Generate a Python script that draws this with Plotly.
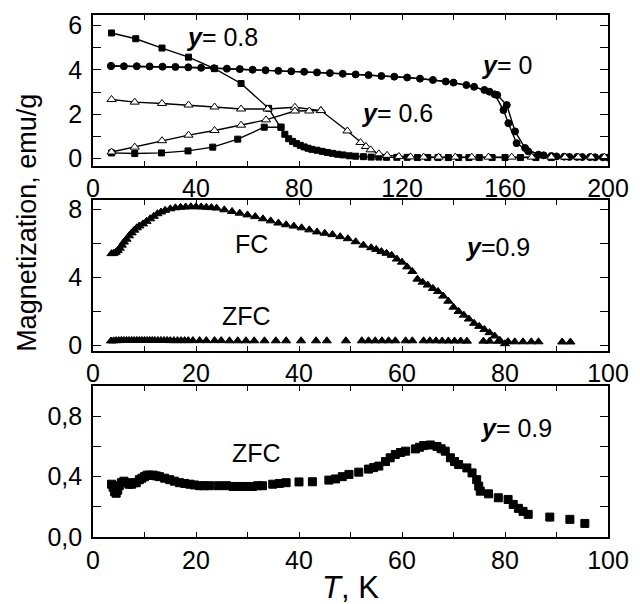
import plotly.graph_objects as go

# ---------------- data: top panel (T up to 200 K) ----------------
y0a_T = [7, 17, 27, 37, 47, 57, 67, 77, 87, 97, 107, 117, 127, 137, 145, 152, 156, 159.4, 161.3, 164.5, 169, 175, 180, 185, 190, 195, 200]
y0a_M = [4.18, 4.17, 4.15, 4.12, 4.08, 4.04, 3.99, 3.94, 3.89, 3.83, 3.77, 3.70, 3.61, 3.48, 3.32, 3.10, 2.90, 2.19, 1.60, 0.70, 0.33, 0.15, 0.10, 0.08, 0.07, 0.06, 0.05]
y0b_T = [7, 12, 22, 32, 42, 52, 62, 72, 82, 92, 102, 112, 122, 132, 140, 148, 154, 157, 160.7, 163.9, 167.8, 173, 178, 183, 188, 193, 198]
y0b_M = [4.18, 4.17, 4.16, 4.14, 4.10, 4.06, 4.01, 3.96, 3.92, 3.86, 3.80, 3.73, 3.66, 3.55, 3.43, 3.24, 3.02, 2.87, 2.42, 1.23, 0.48, 0.18, 0.12, 0.09, 0.08, 0.07, 0.06]

y08fc_T = [7.2, 16.6, 26.8, 37.1, 47.2, 57.5, 68.2, 73.0, 74.5, 76.0, 77.5, 79.0, 80.5, 82.0, 83.5, 85.0, 87.0, 89.0, 91.0, 93.0, 95.0, 97.0, 99.5, 102, 105, 108, 111, 114, 118, 122, 126, 130, 134, 138, 142, 146, 150, 155, 160, 166, 172, 178]
y08fc_M = [5.67, 5.41, 4.99, 4.58, 4.06, 3.39, 2.27, 1.42, 1.10, 0.90, 0.78, 0.68, 0.60, 0.53, 0.47, 0.42, 0.38, 0.33, 0.28, 0.24, 0.20, 0.17, 0.13, 0.11, 0.09, 0.07, 0.07, 0.06, 0.06, 0.06, 0.05, 0.05, 0.05, 0.05, 0.05, 0.05, 0.05, 0.05, 0.05, 0.05, 0.05, 0.05]
y08zfc_T = [7.2, 16.2, 26.6, 36.9, 46.5, 56.2, 66.5, 73.0]
y08zfc_M = [0.26, 0.23, 0.26, 0.35, 0.52, 0.88, 1.42, 1.42]

y06fc_T = [7.2, 16.2, 26.8, 37.1, 47.2, 57.5, 67.8, 78.4, 88.5, 98.8, 103.9, 106.0, 107.8, 111.0, 114.2, 118.8, 123.3, 128.4, 134.2, 140.7, 147.1, 153.6, 162.6, 170.4, 178.0, 183.3, 188.4, 193.5, 198.6]
y06fc_M = [2.67, 2.55, 2.49, 2.42, 2.33, 2.24, 2.24, 2.32, 2.17, 1.25, 0.73, 0.55, 0.40, 0.22, 0.15, 0.10, 0.08, 0.07, 0.07, 0.07, 0.07, 0.07, 0.07, 0.07, 0.07, 0.07, 0.07, 0.07, 0.07]
y06zfc_T = [7.2, 16.2, 26.8, 37.1, 47.2, 57.5, 67.2, 78.4, 84.0, 88.5]
y06zfc_M = [0.30, 0.52, 0.81, 1.06, 1.27, 1.51, 1.75, 2.15, 2.15, 2.17]

# ---------------- data: middle panel, y = 0.9 ----------------
fc09_T = [3.6, 4.0, 4.4, 4.8, 5.2, 5.6, 6.0, 6.5, 7.0, 7.5, 8.0, 8.5, 9.0, 9.7, 10.4, 11.1, 11.8, 12.5, 13.2, 14.0,
          15.0, 16.0, 17.0, 18.0, 19.0, 20.0, 21.0, 22.0, 23.0, 24.0, 25.5, 27.0, 28.5, 30.0, 31.5, 33.0, 34.5, 36.0, 37.5, 39.0,
          40.5, 42.0, 43.5, 45.0, 46.5, 48.0, 49.5, 51.0, 52.5, 54.0, 55.0, 56.0, 57.0, 58.0, 59.0, 60.0, 61.0, 62.0, 63.0, 64.0,
          65.0, 66.0, 67.0, 68.0, 69.0, 70.0, 71.0, 72.0, 73.0, 74.0, 75.0, 76.0, 77.0, 78.0, 79.0, 80.0]
fc09_M = [5.40, 5.42, 5.48, 5.58, 5.72, 5.90, 6.08, 6.25, 6.45, 6.62, 6.78, 6.92, 7.03, 7.15, 7.30, 7.45, 7.60, 7.75, 7.85, 7.95,
          8.04, 8.10, 8.13, 8.15, 8.16, 8.16, 8.15, 8.13, 8.11, 8.08, 7.98, 7.88, 7.78, 7.68, 7.58, 7.45, 7.33, 7.20, 7.10, 7.02,
          6.92, 6.80, 6.68, 6.60, 6.52, 6.40, 6.28, 6.10, 5.90, 5.75, 5.65, 5.52, 5.42, 5.30, 5.08, 4.90, 4.62, 4.35, 3.90, 3.72,
          3.55, 3.35, 3.17, 2.90, 2.60, 2.25, 2.00, 1.78, 1.55, 1.30, 1.12, 0.93, 0.75, 0.55, 0.30, 0.10]
zfc09_T = [3.5, 4.0, 4.5, 5.0, 5.5, 6.0, 6.5, 7.0, 7.5, 8.0, 8.5, 9.0, 9.5, 10.0, 10.5, 11.0, 11.5, 12.0,
           12.6, 13.2, 13.8, 14.4, 15.0, 15.7, 16.4, 17.1, 17.8, 18.5,
           19.4, 20.7, 22.0, 23.6, 24.9, 26.5, 28.1, 29.7, 31.3, 33.3, 35.5, 37.5,
           40.4, 43.3, 45.4, 49.1, 52.2, 53.5, 54.8, 56.1, 57.4, 58.7, 60.7, 62.0,
           64.2, 65.4, 66.6, 67.8, 69.0, 70.2, 71.4, 72.6, 75.8, 77.0,
           78.7, 80.6, 81.9, 83.5, 85.1, 86.5, 91.1, 92.7]
zfc09_M = [0.26, 0.27, 0.28, 0.28, 0.29, 0.29, 0.29, 0.29, 0.29, 0.29, 0.29, 0.29, 0.29, 0.29, 0.29, 0.29, 0.29, 0.29,
           0.29, 0.29, 0.29, 0.29, 0.28, 0.28, 0.28, 0.28, 0.28, 0.28,
           0.28, 0.28, 0.28, 0.28, 0.28, 0.27, 0.27, 0.27, 0.27, 0.27, 0.27, 0.27,
           0.27, 0.27, 0.27, 0.27, 0.27, 0.27, 0.27, 0.27, 0.27, 0.27, 0.27, 0.27,
           0.27, 0.27, 0.27, 0.26, 0.26, 0.26, 0.26, 0.25, 0.25, 0.25,
           0.24, 0.22, 0.21, 0.21, 0.21, 0.21, 0.20, 0.20]

# ---------------- data: bottom panel, y = 0.9 ZFC ----------------
zfcb_T = [3.6, 3.9, 4.2, 4.5, 4.8, 5.1, 5.5, 6.0, 6.5, 7.0, 7.5, 8.0, 8.4, 9.0, 9.5, 10.0, 10.5, 11.0, 11.7, 12.3,
          12.9, 13.9, 14.9, 15.8, 16.8, 17.8, 18.8, 19.7, 20.7, 21.6, 22.6, 24.3, 25.9, 27.2, 28.4, 29.7, 31.0, 32.0, 32.9, 34.9,
          36.2, 37.5, 40.0, 42.6, 45.8, 47.1, 48.4, 49.7, 51.6, 53.5, 54.5, 55.5, 56.8, 57.7, 58.7, 59.7, 60.7, 62.6, 63.4, 64.2,
          65.5, 66.8, 67.6, 68.4, 69.4, 70.2, 71.0, 72.6, 73.6, 74.5, 74.9, 75.2, 76.8, 78.7, 80.6, 81.6, 82.6, 83.5, 84.5, 88.7,
          92.6, 95.5]
zfcb_M = [0.35, 0.33, 0.30, 0.29, 0.31, 0.34, 0.36, 0.37, 0.36, 0.35, 0.35, 0.36, 0.36, 0.38, 0.39, 0.40, 0.41, 0.41, 0.41, 0.405,
          0.40, 0.39, 0.38, 0.37, 0.36, 0.355, 0.35, 0.345, 0.34, 0.34, 0.34, 0.34, 0.34, 0.335, 0.335, 0.335, 0.335, 0.34, 0.34, 0.35,
          0.355, 0.36, 0.365, 0.366, 0.377, 0.385, 0.40, 0.415, 0.43, 0.45, 0.46, 0.47, 0.50, 0.525, 0.547, 0.56, 0.569, 0.584, 0.595, 0.606,
          0.61, 0.60, 0.585, 0.569, 0.525, 0.50, 0.48, 0.458, 0.425, 0.38, 0.337, 0.304, 0.286, 0.26, 0.249, 0.216, 0.19, 0.17, 0.15, 0.132,
          0.117, 0.09]

# tick labels
top_x_ticks = [0, 40, 80, 120, 160, 200]
top_y_ticks = [0, 2, 4, 6]
mid_x_ticks = [0, 20, 40, 60, 80, 100]
mid_y_ticks = [0, 4, 8]
bot_y_ticks = [0.0, 0.4, 0.8]
bot_y_labels = ["0,0", "0,4", "0,8"]

FONT = "Liberation Sans, Arial, Helvetica, sans-serif"
BLACK = "#000000"

fig = go.Figure()

def add(x, y, xa, ya, symbol, size, mode="lines+markers", fill=BLACK):
    fig.add_trace(go.Scatter(
        x=x, y=y, xaxis=xa, yaxis=ya, mode=mode,
        line=dict(color=BLACK, width=1.4),
        marker=dict(symbol=symbol, size=size, color=fill,
                    line=dict(color=BLACK, width=1)),
        showlegend=False, hoverinfo="skip"))

# top panel
add(y0a_T, y0a_M, "x", "y", "circle", 7)
add(y0b_T, y0b_M, "x", "y", "circle", 7)
add(y08fc_T, y08fc_M, "x", "y", "square", 6)
add(y08zfc_T, y08zfc_M, "x", "y", "square", 6)
add(y06fc_T, y06fc_M, "x", "y", "triangle-up", 8, fill="white")
add(y06zfc_T, y06zfc_M, "x", "y", "triangle-up", 8, fill="white")
# middle panel
add(fc09_T, fc09_M, "x2", "y2", "triangle-up", 8, mode="markers")
add(zfc09_T, zfc09_M, "x2", "y2", "triangle-up", 8, mode="markers")
# bottom panel
add(zfcb_T, zfcb_M, "x3", "y3", "square", 8, mode="markers")

axis_common = dict(showline=True, linecolor=BLACK, linewidth=1.6, mirror="ticks",
                   ticks="inside", tickcolor=BLACK, showgrid=False, zeroline=False,
                   tickfont=dict(family=FONT, size=25, color=BLACK))

def xax(domain_anchor, rng, vals, minor_dtick):
    d = dict(axis_common)
    d.update(anchor=domain_anchor, range=rng, tickmode="array", tickvals=vals,
             ticklen=5, tickwidth=1.2, domain=[0, 1],
             minor=dict(dtick=minor_dtick, tick0=0, ticks="inside", ticklen=5, tickcolor=BLACK, tickwidth=1.2),
             ticklabelstandoff=0)
    return d

def yax(domain, anchor, rng, vals, minor_dtick, texts=None):
    d = dict(axis_common)
    d.update(anchor=anchor, range=rng, domain=domain, tickmode="array", tickvals=vals,
             ticklen=8, tickwidth=1.2,
             minor=dict(dtick=minor_dtick, tick0=0, ticks="inside", ticklen=8, tickcolor=BLACK, tickwidth=1.2),
             ticklabelstandoff=4)
    if texts is not None:
        d["ticktext"] = texts
    return d

fig.update_layout(
    width=640, height=604,
    margin=dict(l=93, r=30, t=11, b=67),
    paper_bgcolor="white", plot_bgcolor="white",
    font=dict(family=FONT, color=BLACK),
    xaxis=xax("y", [0, 200], top_x_ticks, 20),
    yaxis=yax([0.7116, 1.0], "x", [-0.31, 6.48], top_y_ticks, 1),
    xaxis2=xax("y2", [0, 100], mid_x_ticks, 10),
    yaxis2=yax([0.357, 0.646], "x2", [-0.31, 8.57], mid_y_ticks, 2),
    xaxis3=xax("y3", [0, 100], mid_x_ticks, 10),
    yaxis3=yax([0.0, 0.289], "x3", [0, 1.0], bot_y_ticks, 0.2, bot_y_labels),
)

ann_font = dict(family=FONT, size=25, color=BLACK)
anns = [
    dict(x=50, y=5.5, xref="x", yref="y", text="<b><i>y</i></b>= 0.8"),
    dict(x=160.5, y=4.24, xref="x", yref="y", text="<b><i>y</i></b>= 0"),
    dict(x=118, y=2.04, xref="x", yref="y", text="<b><i>y</i></b>= 0.6"),
    dict(x=30.8, y=5.94, xref="x2", yref="y2", text="FC"),
    dict(x=29.8, y=1.75, xref="x2", yref="y2", text="ZFC"),
    dict(x=78.5, y=5.77, xref="x2", yref="y2", text="<b><i>y</i></b>=0.9"),
    dict(x=31.7, y=0.555, xref="x3", yref="y3", text="ZFC"),
    dict(x=82.2, y=0.72, xref="x3", yref="y3", text="<b><i>y</i></b>= 0.9"),
]
for a in anns:
    fig.add_annotation(showarrow=False, font=ann_font, xanchor="center", yanchor="middle", **a)

fig.add_annotation(x=0.5, y=-0.097, xref="paper", yref="paper", showarrow=False,
                   text="<i>T</i>, K", font=dict(family=FONT, size=31, color=BLACK),
                   xanchor="center", yanchor="middle")
fig.add_annotation(x=-0.127, y=0.601, xref="paper", yref="paper", showarrow=False,
                   text="Magnetization, emu/g", textangle=-90,
                   font=dict(family=FONT, size=27, color=BLACK),
                   xanchor="center", yanchor="middle")

fig.write_html("out.html", config={"displayModeBar": False},
               post_script="document.body.style.margin='0';")
